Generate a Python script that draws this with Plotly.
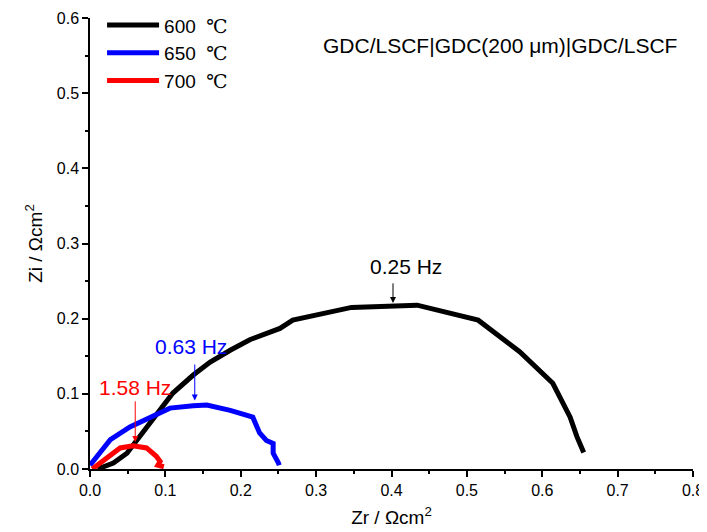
import plotly.graph_objects as go

# Nyquist data (Zr, Zi) in ohm cm^2
zr_600 = [0.010, 0.031, 0.049, 0.066, 0.089, 0.110, 0.137, 0.159, 0.186, 0.212, 0.252, 0.269,
          0.347, 0.402, 0.434, 0.515, 0.570, 0.614, 0.637, 0.646, 0.654, 0.655]
zi_600 = [0.000, 0.008, 0.021, 0.043, 0.074, 0.101, 0.125, 0.142, 0.158, 0.172, 0.187, 0.198,
          0.215, 0.217, 0.218, 0.198, 0.156, 0.114, 0.069, 0.043, 0.025, 0.022]

zr_650 = [0.000, 0.027, 0.053, 0.080, 0.106, 0.137, 0.155, 0.186, 0.216, 0.225, 0.234, 0.243,
          0.243, 0.250, 0.251]
zi_650 = [0.005, 0.039, 0.056, 0.069, 0.081, 0.084, 0.085, 0.078, 0.069, 0.048, 0.038, 0.034,
          0.021, 0.008, 0.005]

zr_700 = [0.003, 0.013, 0.027, 0.040, 0.057, 0.075, 0.088, 0.093, 0.090, 0.097, 0.098]
zi_700 = [0.000, 0.008, 0.019, 0.028, 0.031, 0.028, 0.017, 0.010, 0.005, 0.004, 0.003]

series_labels = ["600", "650", "700"]
series_colors = ["#000000", "#0000ff", "#ff0000"]

# frequency markers: label, x, y tip, y tail, colour
marker_labels = ["0.25 Hz", "0.63 Hz", "1.58 Hz"]
marker_x = [0.402, 0.139, 0.060]
marker_tip = [0.221, 0.091, 0.036]
marker_tail = [0.249, 0.141, 0.092]
marker_text_x = [0.419, 0.134, 0.060]
marker_text_y = [0.269, 0.163, 0.109]
marker_colors = ["#000000", "#0000ff", "#ff0000"]

font_family = "Arial, Liberation Sans, sans-serif"
deg = "<span style='font-family:DejaVu Serif'>℃</span>"

fig = go.Figure()
for xs, ys, lab, col in zip([zr_600, zr_650, zr_700], [zi_600, zi_650, zi_700],
                            series_labels, series_colors):
    fig.add_trace(go.Scatter(x=xs, y=ys, mode="lines", name=lab + "  " + deg,
                             line=dict(color=col, width=5)))

for lab, x, tip, tail, tx, ty, col in zip(marker_labels, marker_x, marker_tip, marker_tail,
                                          marker_text_x, marker_text_y, marker_colors):
    fig.add_annotation(x=x, y=tip, ax=x, ay=tail, xref="x", yref="y", axref="x", ayref="y",
                       text="", showarrow=True, arrowhead=2, arrowsize=1.2, arrowwidth=1,
                       arrowcolor=col)
    fig.add_annotation(x=tx, y=ty, xref="x", yref="y", text=lab, showarrow=False,
                       font=dict(family=font_family, size=21, color=col))

fig.add_annotation(x=0.781, y=0.564, xref="x", yref="y", xanchor="right",
                   text="GDC/LSCF|GDC(200 μm)|GDC/LSCF", showarrow=False,
                   font=dict(family=font_family, size=21, color="#000"))

axis_common = dict(showline=True, linecolor="#000", linewidth=1.5, ticks="outside",
                   ticklen=6, tickwidth=1.5, tickcolor="#000", showgrid=False,
                   zeroline=False, mirror=False, tickformat=".1f", automargin=False,
                   tickfont=dict(family=font_family, size=16, color="#000"),
                   minor=dict(ticks="outside", ticklen=3, tickwidth=1.5, tickcolor="#000",
                              dtick=0.05))

fig.update_xaxes(range=[0, 0.8], dtick=0.1, **axis_common,
                 title=dict(text="Zr / Ωcm<sup>2</sup>", standoff=13,
                            font=dict(family=font_family, size=19, color="#000")))
fig.update_yaxes(range=[0, 0.6], dtick=0.1, **axis_common,
                 title=dict(text="Zi / Ωcm<sup>2</sup>", standoff=9,
                            font=dict(family=font_family, size=19, color="#000")))

fig.update_layout(width=699, height=524,
                  margin=dict(l=82, r=14, t=10, b=63, autoexpand=False),
                  plot_bgcolor="white", paper_bgcolor="white",
                  legend=dict(x=0.02, y=1.026, xanchor="left", yanchor="top",
                              bgcolor="rgba(0,0,0,0)", tracegroupgap=0,
                              font=dict(family=font_family, size=19, color="#000"),
                              itemwidth=52))

fig.write_html("out.html")
